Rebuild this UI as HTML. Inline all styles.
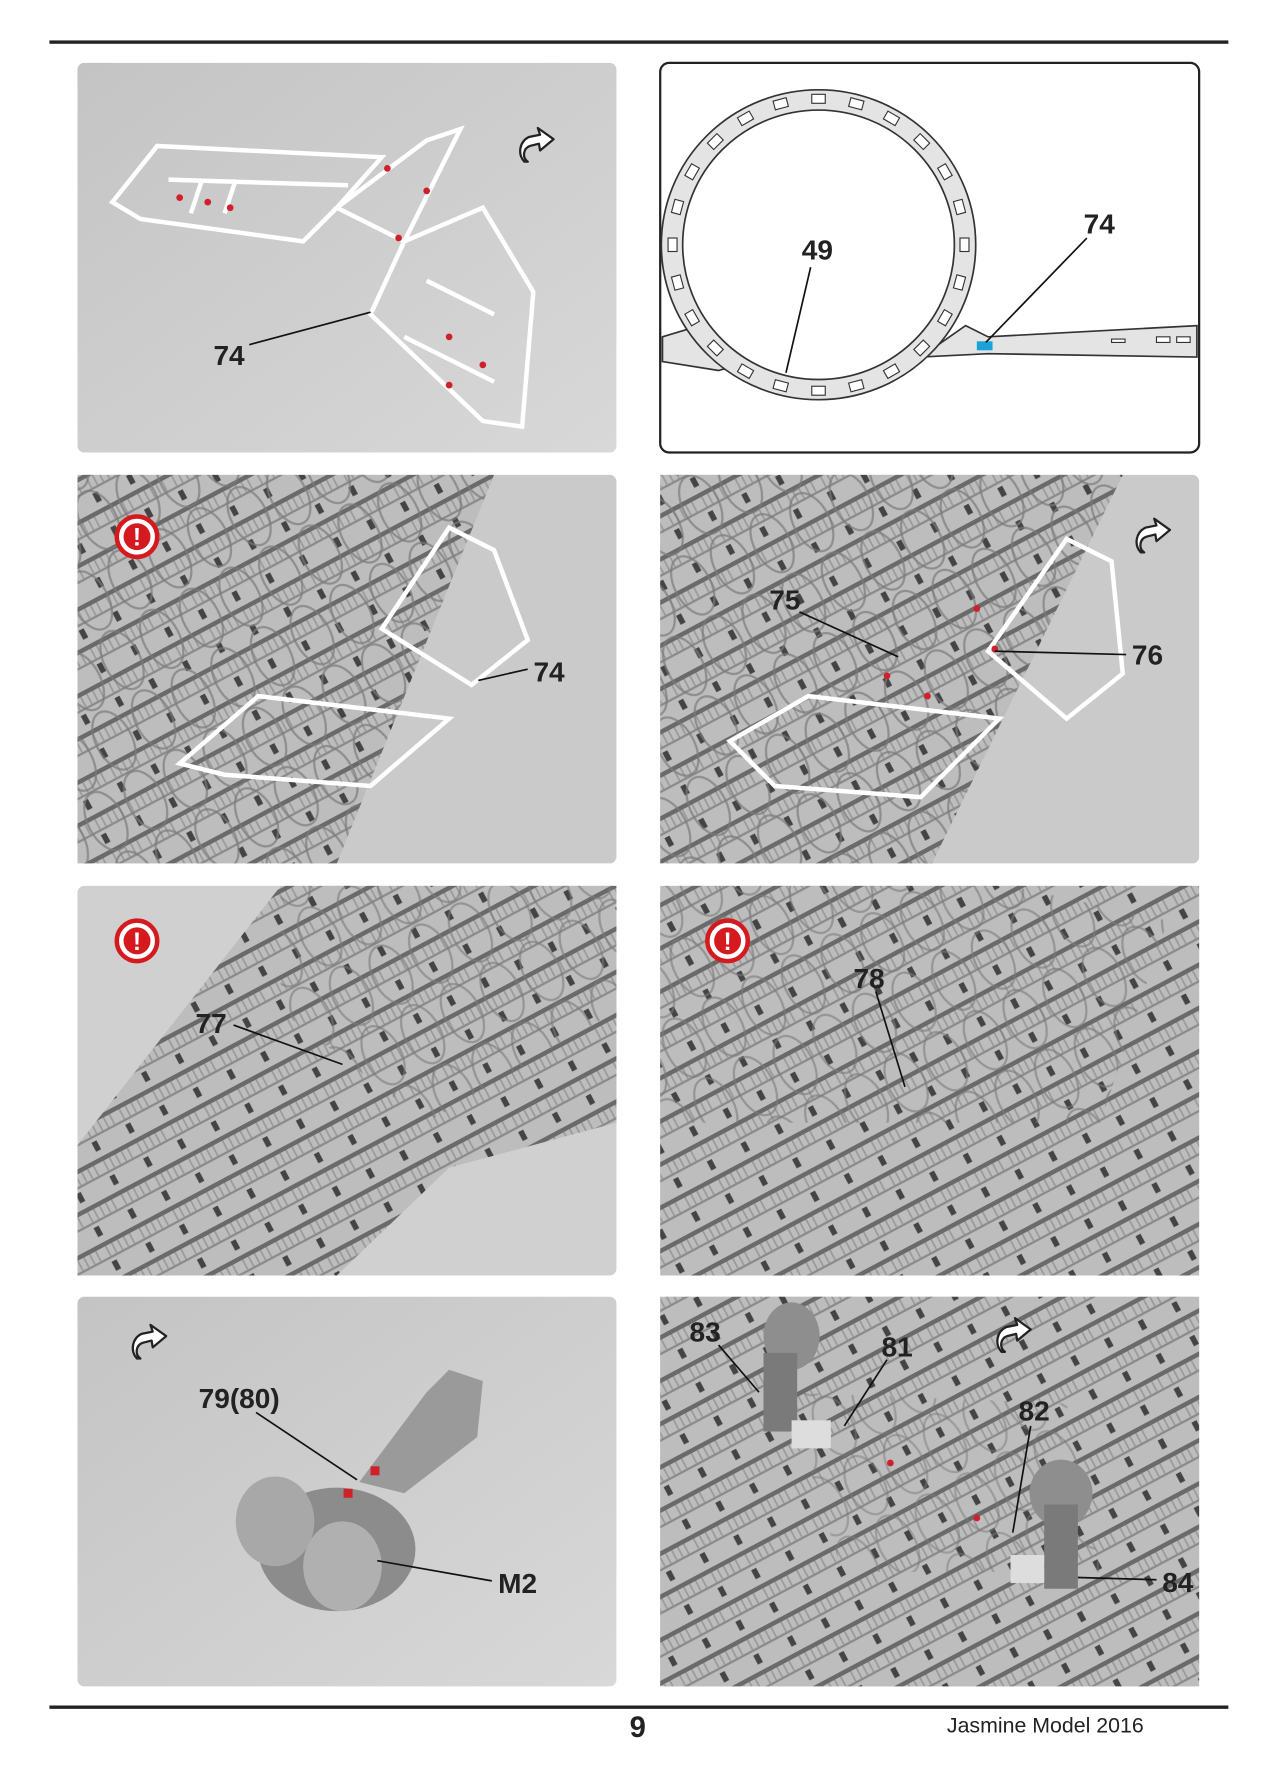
<!DOCTYPE html>
<html><head><meta charset="utf-8"><style>
html,body{margin:0;padding:0;background:#fff;}
svg{display:block;}
text{font-family:"Liberation Sans",sans-serif;}
</style></head><body>
<svg width="1280" height="1765" viewBox="0 0 1140 1572" xmlns="http://www.w3.org/2000/svg">
<defs>
<pattern id="lat" width="34" height="34" patternUnits="userSpaceOnUse" patternTransform="rotate(-28)">
<rect width="34" height="34" fill="#bdbdbd"/>
<rect x="0" y="0" width="34" height="4" fill="#6a6a6a"/>
<rect x="0" y="14" width="34" height="2" fill="#8a8a8a"/>
<path d="M4 4v10M10 4v10M16 4v10M22 4v10M28 4v10" stroke="#999" stroke-width="1.5"/>
<rect x="2" y="19" width="5" height="9" fill="#444"/>
</pattern>
<pattern id="rings" width="40" height="60" patternUnits="userSpaceOnUse" patternTransform="rotate(-28)">
<ellipse cx="20" cy="30" rx="16" ry="28" fill="none" stroke="#7a7a7a" stroke-width="2"/>
</pattern>
<linearGradient id="bg" x1="0" y1="0" x2="1" y2="1"><stop offset="0" stop-color="#c4c4c4"/><stop offset="1" stop-color="#d8d8d8"/></linearGradient>
<g id="rot"><path d="M-14 12 a14 14 0 0 1 4 -22 l10 -2 l-2 -6 l14 10 l-12 10 l-1 -6 l-8 2 a8 8 0 0 0 -2 14 z" fill="#fff" stroke="#222" stroke-width="2" stroke-linejoin="round"/></g>
<g id="ex"><circle r="18" fill="#fff" stroke="#d41a1f" stroke-width="4"/><circle r="12" fill="#d41a1f"/><text y="8" text-anchor="middle" font-size="22" font-weight="bold" fill="#fff">!</text></g>
</defs>
<rect x="44" y="36" width="1050" height="3" fill="#222"/>
<rect x="44" y="1519" width="1050" height="3" fill="#222"/>
<text x="568" y="1547" text-anchor="middle" font-size="26" font-weight="bold" fill="#222">9</text>
<text x="931" y="1543" text-anchor="middle" font-size="19" fill="#222">Jasmine Model 2016</text>

<!-- Panel 1 -->
<rect x="69" y="56" width="480" height="347" rx="6" fill="url(#bg)"/>
<g fill="none" stroke="#fff" stroke-width="4">
<path d="M100 180 L140 130 L340 140 L300 185 L270 215 L125 195 Z"/>
<path d="M300 185 L380 125 L410 115 L360 215 Z"/>
<path d="M360 215 L430 185 L475 260 L465 380 L430 375 L330 280 Z"/>
<path d="M150 160 L310 165 M170 190 l10 -30 M200 190 l10 -30 M380 250 l60 30 M360 300 l80 40"/>
</g>
<g fill="#d0202a"><circle cx="160" cy="176" r="3"/><circle cx="185" cy="180" r="3"/><circle cx="205" cy="185" r="3"/><circle cx="345" cy="150" r="3"/><circle cx="380" cy="170" r="3"/><circle cx="400" cy="300" r="3"/><circle cx="430" cy="325" r="3"/><circle cx="400" cy="343" r="3"/><circle cx="355" cy="212" r="3"/></g>
<use href="#rot" x="481" y="132"/>
<line x1="222" y1="307" x2="330" y2="278" stroke="#111" stroke-width="1.5"/>
<text x="204" y="325" text-anchor="middle" font-size="25" font-weight="bold" fill="#222">74</text>

<!-- Panel 2 -->
<rect x="588" y="56" width="480" height="347" rx="8" fill="#fff" stroke="#222" stroke-width="2"/>
<g stroke="#333" stroke-width="1.5" fill="#e4e4e4">
<path d="M590 300 L640 285 L680 318 L640 330 L590 322 Z"/>
<path d="M820 318 L860 290 L880 300 L1066 290 L1066 318 L880 315 Z"/>
<ellipse cx="729" cy="218" rx="140" ry="138"/>
<ellipse cx="729" cy="218" rx="121" ry="120" fill="#fff"/>
</g>
<g fill="#fff" stroke="#333" stroke-width="1" transform="translate(729 218)">
<g id="slots"><rect x="-6" y="-134" width="12" height="8"/></g>
<use href="#slots" transform="rotate(15)"/><use href="#slots" transform="rotate(30)"/><use href="#slots" transform="rotate(45)"/><use href="#slots" transform="rotate(60)"/><use href="#slots" transform="rotate(75)"/><use href="#slots" transform="rotate(90)"/><use href="#slots" transform="rotate(105)"/><use href="#slots" transform="rotate(120)"/><use href="#slots" transform="rotate(135)"/><use href="#slots" transform="rotate(150)"/><use href="#slots" transform="rotate(165)"/><use href="#slots" transform="rotate(180)"/><use href="#slots" transform="rotate(195)"/><use href="#slots" transform="rotate(210)"/><use href="#slots" transform="rotate(225)"/><use href="#slots" transform="rotate(240)"/><use href="#slots" transform="rotate(255)"/><use href="#slots" transform="rotate(270)"/><use href="#slots" transform="rotate(285)"/><use href="#slots" transform="rotate(300)"/><use href="#slots" transform="rotate(315)"/><use href="#slots" transform="rotate(330)"/><use href="#slots" transform="rotate(345)"/>
</g>
<g fill="#fff" stroke="#333" stroke-width="1"><rect x="1030" y="300" width="12" height="5"/><rect x="1048" y="300" width="12" height="5"/><rect x="990" y="302" width="12" height="3"/></g>
<rect x="870" y="304" width="14" height="8" fill="#1aa3d9"/>
<line x1="700" y1="332" x2="722" y2="238" stroke="#111" stroke-width="1.5"/>
<line x1="878" y1="305" x2="968" y2="212" stroke="#111" stroke-width="1.5"/>
<text x="728" y="231" text-anchor="middle" font-size="25" font-weight="bold" fill="#222">49</text>
<text x="979" y="208" text-anchor="middle" font-size="25" font-weight="bold" fill="#222">74</text>

<!-- Panel 3 -->
<rect x="69" y="423" width="480" height="346" rx="6" fill="#cacaca"/>
<path d="M69 423 H440 L300 769 H69 Z" fill="url(#lat)"/>
<path d="M69 423 H440 L300 769 H69 Z" fill="url(#rings)" opacity="0.7"/>
<g fill="none" stroke="#fff" stroke-width="4">
<path d="M340 560 L400 470 L440 490 L470 570 L420 610 Z"/>
<path d="M160 680 L230 620 L400 640 L330 700 L200 690 Z"/>
</g>
<use href="#ex" x="122" y="478"/>
<line x1="426" y1="606" x2="470" y2="596" stroke="#111" stroke-width="1.5"/>
<text x="489" y="607" text-anchor="middle" font-size="25" font-weight="bold" fill="#222">74</text>

<!-- Panel 4 -->
<rect x="588" y="423" width="480" height="346" rx="6" fill="#cacaca"/>
<path d="M588 423 H1000 L830 769 H588 Z" fill="url(#lat)"/>
<path d="M588 423 H1000 L830 769 H588 Z" fill="url(#rings)" opacity="0.7"/>
<g fill="none" stroke="#fff" stroke-width="4">
<path d="M880 580 L950 480 L990 500 L1000 600 L950 640 Z"/>
<path d="M650 660 L720 620 L890 640 L820 710 L690 700 Z"/>
</g>
<g fill="#d0202a"><circle cx="790" cy="602" r="3"/><circle cx="826" cy="620" r="3"/><circle cx="870" cy="542" r="3"/><circle cx="886" cy="578" r="3"/></g>
<use href="#rot" x="1030" y="480"/>
<line x1="712" y1="545" x2="800" y2="585" stroke="#111" stroke-width="1.5"/>
<line x1="886" y1="580" x2="1003" y2="583" stroke="#111" stroke-width="1.5"/>
<text x="699" y="543" text-anchor="middle" font-size="25" font-weight="bold" fill="#222">75</text>
<text x="1022" y="592" text-anchor="middle" font-size="25" font-weight="bold" fill="#222">76</text>

<!-- Panel 5 -->
<rect x="69" y="789" width="480" height="347" rx="6" fill="#d0d0d0"/>
<path d="M250 789 H549 V1000 L400 1040 L300 1136 H69 V1020 Z" fill="url(#lat)"/>
<path d="M250 789 H549 V900 L380 1000 L250 900 Z" fill="url(#rings)" opacity="0.6"/>
<use href="#ex" x="122" y="838"/>
<line x1="208" y1="913" x2="305" y2="948" stroke="#111" stroke-width="1.5"/>
<text x="188" y="920" text-anchor="middle" font-size="25" font-weight="bold" fill="#222">77</text>

<!-- Panel 6 -->
<rect x="588" y="789" width="480" height="347" rx="6" fill="#c8c8c8"/>
<path d="M588 789 H1068 V1136 H588 Z" fill="url(#lat)"/>
<path d="M588 789 H900 L1040 820 L980 1000 L588 1000 Z" fill="url(#rings)" opacity="0.6"/>
<use href="#ex" x="648" y="838"/>
<line x1="780" y1="883" x2="806" y2="968" stroke="#111" stroke-width="1.5"/>
<text x="774" y="880" text-anchor="middle" font-size="25" font-weight="bold" fill="#222">78</text>

<!-- Panel 7 -->
<rect x="69" y="1155" width="480" height="347" rx="6" fill="url(#bg)"/>
<path d="M320 1320 L380 1240 L400 1220 L430 1230 L425 1280 L360 1330 Z" fill="#9a9a9a"/>
<ellipse cx="300" cy="1380" rx="70" ry="55" fill="#8c8c8c"/>
<ellipse cx="245" cy="1355" rx="35" ry="40" fill="#a8a8a8"/>
<ellipse cx="305" cy="1395" rx="35" ry="40" fill="#b0b0b0"/>
<rect x="306" y="1326" width="8" height="8" fill="#d0202a"/><rect x="330" y="1306" width="8" height="8" fill="#d0202a"/>
<use href="#rot" x="136" y="1198"/>
<line x1="228" y1="1258" x2="318" y2="1318" stroke="#111" stroke-width="1.5"/>
<line x1="336" y1="1390" x2="438" y2="1408" stroke="#111" stroke-width="1.5"/>
<text x="213" y="1254" text-anchor="middle" font-size="25" font-weight="bold" fill="#222">79(80)</text>
<text x="461" y="1419" text-anchor="middle" font-size="25" font-weight="bold" fill="#222">M2</text>

<!-- Panel 8 -->
<rect x="588" y="1155" width="480" height="347" rx="6" fill="#c4c4c4"/>
<path d="M588 1155 H1068 V1502 H588 Z" fill="url(#lat)"/>
<path d="M700 1240 L950 1250 L980 1400 L750 1400 Z" fill="url(#rings)" opacity="0.5"/>
<ellipse cx="705" cy="1190" rx="25" ry="30" fill="#8e8e8e"/>
<rect x="680" y="1205" width="30" height="70" fill="#7a7a7a"/>
<rect x="705" y="1265" width="35" height="25" fill="#ddd"/>
<ellipse cx="945" cy="1330" rx="28" ry="30" fill="#8e8e8e"/>
<rect x="930" y="1340" width="30" height="75" fill="#7a7a7a"/>
<rect x="900" y="1385" width="30" height="25" fill="#ddd"/>
<g fill="#d0202a"><circle cx="793" cy="1303" r="3"/><circle cx="870" cy="1352" r="3"/></g>
<use href="#rot" x="906" y="1192"/>
<line x1="640" y1="1198" x2="676" y2="1240" stroke="#111" stroke-width="1.5"/>
<line x1="790" y1="1211" x2="752" y2="1270" stroke="#111" stroke-width="1.5"/>
<line x1="918" y1="1270" x2="902" y2="1365" stroke="#111" stroke-width="1.5"/>
<line x1="960" y1="1405" x2="1030" y2="1407" stroke="#111" stroke-width="1.5"/>
<text x="628" y="1195" text-anchor="middle" font-size="25" font-weight="bold" fill="#222">83</text>
<text x="799" y="1208" text-anchor="middle" font-size="25" font-weight="bold" fill="#222">81</text>
<text x="921" y="1265" text-anchor="middle" font-size="25" font-weight="bold" fill="#222">82</text>
<text x="1049" y="1418" text-anchor="middle" font-size="25" font-weight="bold" fill="#222">84</text>
</svg>
</body></html>
